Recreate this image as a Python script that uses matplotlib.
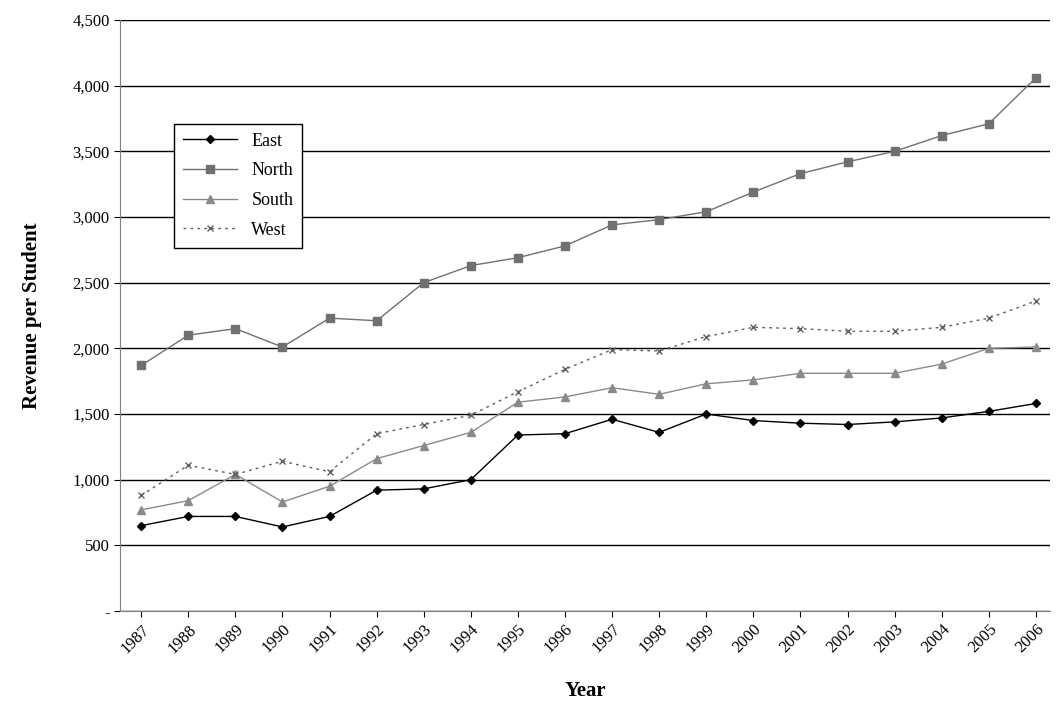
import matplotlib
matplotlib.use("Agg")
import matplotlib.pyplot as plt
from matplotlib.ticker import FuncFormatter

years = list(range(1987, 2007))
east = [650, 720, 720, 640, 720, 920, 930, 1000, 1340, 1350, 1460, 1360, 1500, 1450, 1430, 1420, 1440, 1470, 1520, 1580]
north = [1870, 2100, 2150, 2010, 2230, 2210, 2500, 2630, 2690, 2780, 2940, 2980, 3040, 3190, 3330, 3420, 3500, 3620, 3710, 4060]
south = [770, 840, 1040, 830, 950, 1160, 1260, 1360, 1590, 1630, 1700, 1650, 1730, 1760, 1810, 1810, 1810, 1880, 2000, 2010]
west = [880, 1110, 1040, 1140, 1060, 1350, 1420, 1490, 1670, 1840, 1990, 1980, 2090, 2160, 2150, 2130, 2130, 2160, 2230, 2360]

plt.rcParams['font.family'] = ['Liberation Serif', 'DejaVu Serif']
fig = plt.figure(figsize=(10.56, 7.15), dpi=100)
ax = fig.add_axes([120/1056, 1-611/715, 930/1056, 591/715])
x = list(range(len(years)))
ax.plot(x, east, color='black', marker='D', ms=4, lw=1, label='East')
ax.plot(x, north, color='#707070', marker='s', ms=6, lw=1, label='North')
ax.plot(x, south, color='#8a8a8a', marker='^', ms=6, lw=1, label='South')
ax.plot(x, west, color='#606060', marker='x', ms=4, lw=1, ls=(0, (2, 3)), label='West')
ax.set_xlim(-0.45, 19.3)
ax.set_ylim(0, 4500)
ax.set_yticks(range(0, 4501, 500))
ax.yaxis.set_major_formatter(FuncFormatter(lambda v, p: '-' if v == 0 else f'{int(v):,}'))
ax.grid(axis='y', color='black', lw=1)
ax.set_axisbelow(True)
ax.set_xticks(x)
ax.set_xticklabels([str(y) for y in years], rotation=45, ha='right', rotation_mode='anchor')
ax.tick_params(labelsize=12, length=4)
for s in ['top', 'right']:
    ax.spines[s].set_visible(False)
ax.spines['left'].set_color('#808080')
ax.spines['bottom'].set_color('#808080')
ax.set_xlabel('Year', fontsize=15, fontweight='bold', labelpad=18)
ax.set_ylabel('Revenue per Student', fontsize=15, fontweight='bold', labelpad=22)
leg = ax.legend(loc='upper left', bbox_to_anchor=(0.048, 0.84), fontsize=13, fancybox=False,
                edgecolor='black', framealpha=1, handlelength=3, labelspacing=0.7,
                borderpad=0.5)
fig.savefig('out.png', dpi=100)
